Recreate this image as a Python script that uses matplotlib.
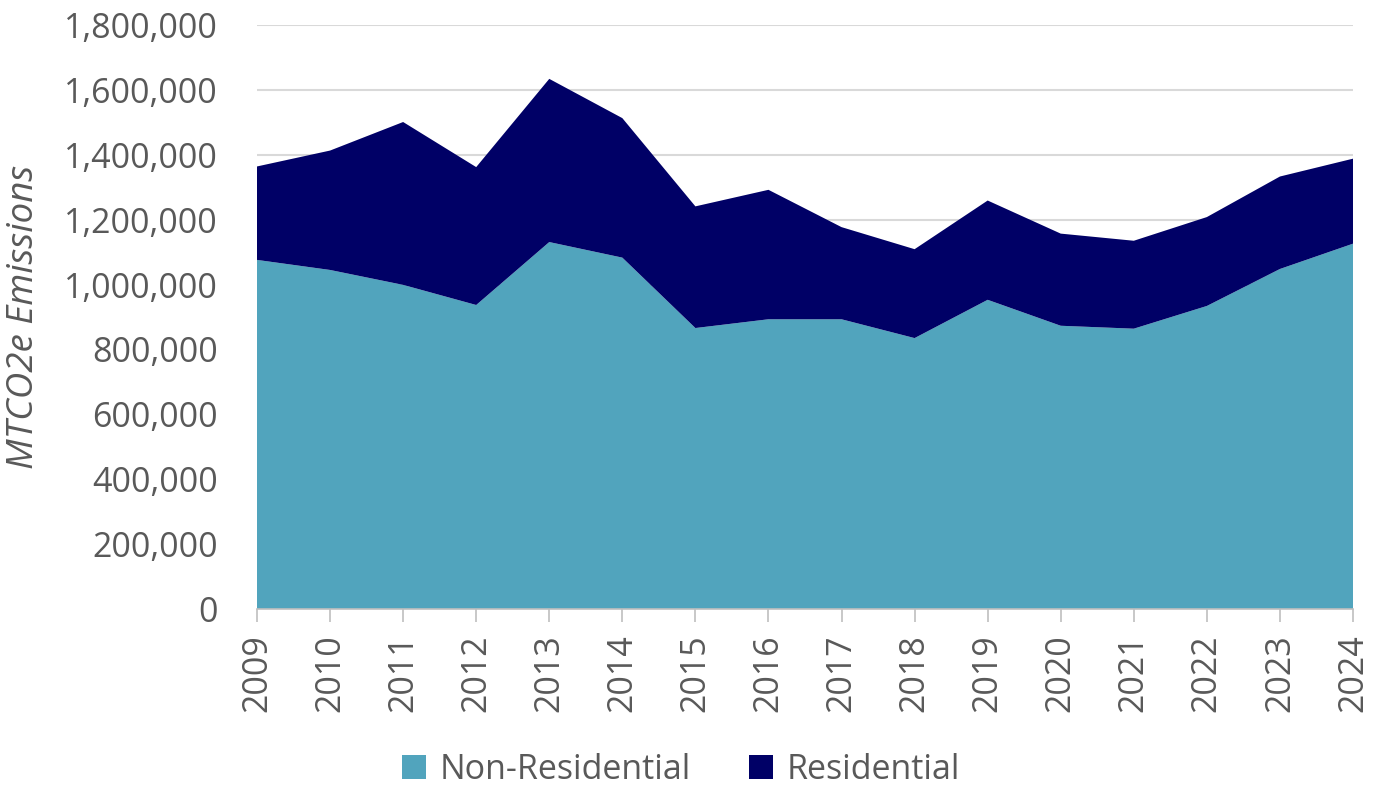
import matplotlib
matplotlib.use("Agg")
import matplotlib.pyplot as plt
from matplotlib.ticker import FuncFormatter, MultipleLocator
from matplotlib.patches import Patch

years = [2009, 2010, 2011, 2012, 2013, 2014, 2015, 2016,
         2017, 2018, 2019, 2020, 2021, 2022, 2023, 2024]
non_residential = [1076000, 1045000, 999000, 937000, 1131000, 1083000, 866000, 893000,
                   893000, 835000, 953000, 873000, 864000, 934000, 1048000, 1126000]
residential = [288000, 368000, 502000, 425000, 503000, 430000, 375000, 399000,
               284000, 274000, 306000, 284000, 271000, 274000, 285000, 262000]
series_names = ["Non-Residential", "Residential"]
colors = ["#51A4BD", "#000066"]

plt.rcParams['font.family'] = ['Open Sans', 'DejaVu Sans']
text_color = "#595959"

fig = plt.figure(figsize=(13.83, 7.89), dpi=100)
ax = fig.add_axes([257/1383, 1 - 609/789, (1353-257)/1383, (609-25)/789])

ax.stackplot(years, non_residential, residential, colors=colors, linewidth=0, zorder=2)

ax.set_xlim(years[0], years[-1])
ax.set_ylim(0, 1800000)
ax.yaxis.set_major_locator(MultipleLocator(200000))
ax.yaxis.set_major_formatter(FuncFormatter(lambda v, p: f"{int(v):,}"))
ax.set_xticks(years)
ax.set_xticklabels([str(y) for y in years], rotation=90)

ax.grid(axis='y', color='#D9D9D9', linewidth=1.5, zorder=0)
ax.set_axisbelow(True)
for s in ['left', 'right', 'top']:
    ax.spines[s].set_visible(False)
ax.spines['bottom'].set_color('#BFBFBF')
ax.spines['bottom'].set_linewidth(1.2)

ax.tick_params(axis='y', length=0, pad=28, labelsize=24.5, labelcolor=text_color)
ax.tick_params(axis='x', length=9, width=1.2, color='#BFBFBF', pad=9,
               labelsize=24.5, labelcolor=text_color)

ax.set_ylabel("MTCO2e Emissions", fontsize=26.5, fontstyle='italic', color=text_color)
ax.yaxis.set_label_coords(-0.196, 0.5)

handles = [Patch(facecolor=c, edgecolor='none') for c in colors]
fig.legend(handles, series_names, loc='center', bbox_to_anchor=(681/1383, 1 - 770/789),
           ncol=2, frameon=False, fontsize=24.5, labelcolor=text_color,
           handlelength=0.7, handleheight=0.7, handletextpad=0.4, columnspacing=1.7)

fig.savefig("out.png", dpi=100)
